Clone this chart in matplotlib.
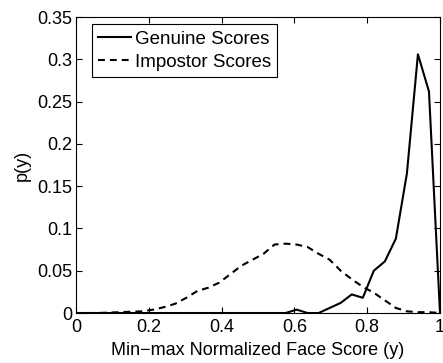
import matplotlib.pyplot as plt
import numpy as np
from matplotlib.ticker import FormatStrFormatter

plt.rcParams['font.family'] = ['Liberation Sans', 'DejaVu Sans']
plt.rcParams['font.size'] = 13

# score bins (34 bins over [0, 1])
scores = np.linspace(0, 1, 34)
genuine = [0, 0, 0, 0, 0, 0, 0, 0, 0, 0,
           0, 0, 0, 0, 0, 0, 0, 0, 0, 0,
           0.004, 0, 0, 0.006, 0.012, 0.022, 0.018, 0.050, 0.061, 0.088,
           0.165, 0.306, 0.262, 0]
impostor = [0, 0, 0, 0.0005, 0.001, 0.0015, 0.002, 0.004, 0.007, 0.011,
            0.018, 0.026, 0.030, 0.036, 0.046, 0.056, 0.063, 0.070, 0.081, 0.082,
            0.081, 0.078, 0.070, 0.063, 0.050, 0.040, 0.031, 0.024, 0.015, 0.006,
            0.002, 0.001, 0.001, 0]

fig = plt.figure(figsize=(4.43, 3.63), dpi=100)
ax = fig.add_axes([0.1716, 0.1377, 0.8216, 0.8153])

ax.plot(scores, genuine, 'k-', lw=1.5, label='Genuine Scores')
ax.plot(scores, impostor, 'k--', lw=1.5, dashes=(3.3, 2.4), label='Impostor Scores')

ax.set_xlim(0, 1)
ax.set_ylim(0, 0.35)
ax.set_xticks(np.arange(0, 1.01, 0.2))
ax.set_yticks(np.arange(0, 0.351, 0.05))
ax.xaxis.set_major_formatter(FormatStrFormatter('%g'))
ax.yaxis.set_major_formatter(FormatStrFormatter('%g'))
ax.tick_params(direction='in', top=True, right=True, length=4, width=0.8, labelsize=13)
ax.tick_params(axis='y', pad=2.5)
ax.tick_params(axis='x', pad=4.5)
for s in ax.spines.values():
    s.set_linewidth(0.8)

ax.set_xlabel('Min\u2212max Normalized Face Score (y)', fontsize=13, labelpad=4)
ax.set_ylabel('p(y)', fontsize=13, labelpad=5)

leg = ax.legend(loc='upper left', bbox_to_anchor=(0.044, 0.975), fontsize=13.5,
                handlelength=1.75, handletextpad=0.2, borderaxespad=0, borderpad=0.33,
                labelspacing=0.3, fancybox=False, framealpha=1)
leg.get_frame().set_edgecolor('k')
leg.get_frame().set_linewidth(0.8)

fig.savefig('out.png', dpi=100)
